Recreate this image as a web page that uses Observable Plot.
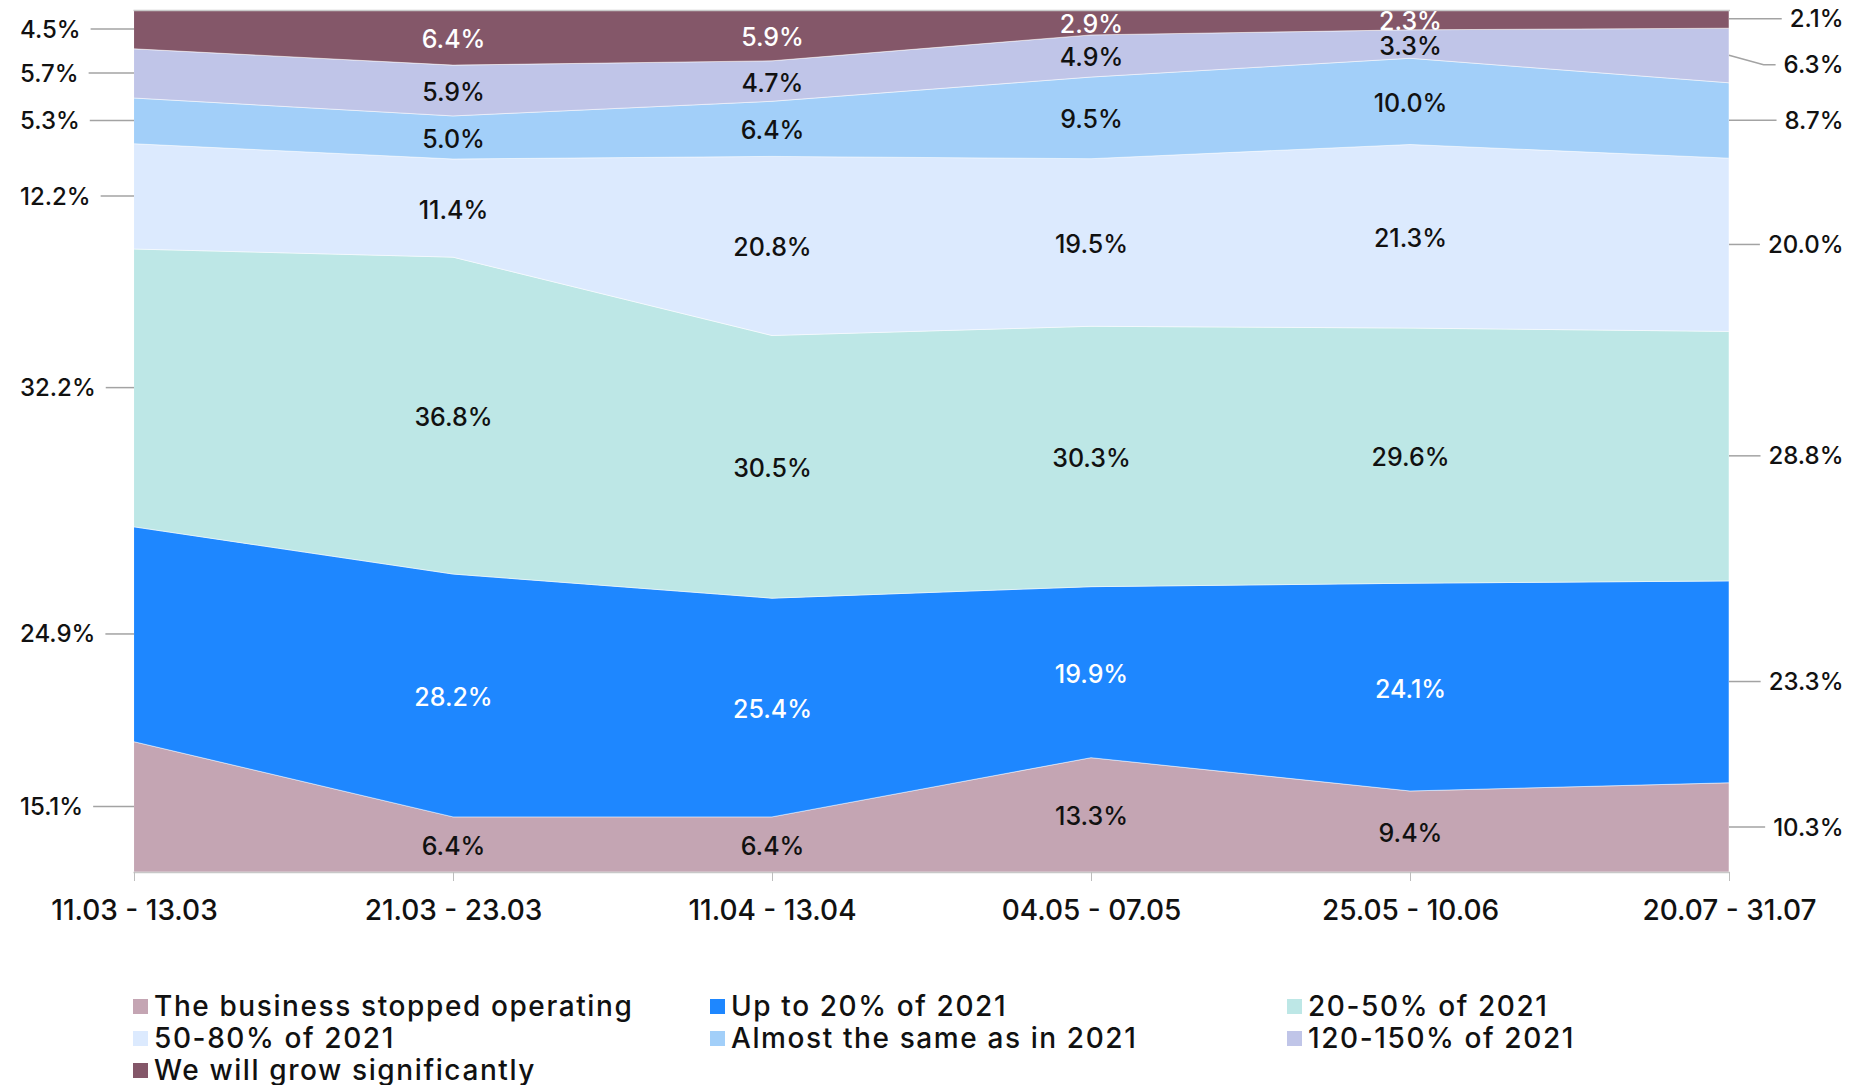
<!DOCTYPE html>
<html>
<head>
<meta charset="utf-8">
<script src="https://cdn.jsdelivr.net/npm/d3@7"></script>
<script src="https://cdn.jsdelivr.net/npm/@observablehq/plot@0.6"></script>
<style>
  body { margin: 0; background: #fff; font-family: Inter, "Noto Sans", sans-serif; }
  #chart svg { display: block; }
  .legend { display: grid; grid-template-columns: 577px 577px 577px; padding-left: 133px; margin-top: 40px; }
  .item { display: flex; align-items: center; height: 32px; font-size: 28px; font-weight: 500; letter-spacing: 1.6px; color: #111; white-space: nowrap; }
  .sw { width: 15px; height: 15px; margin-right: 6px; flex: none; }
</style>
</head>
<body>
<div id="chart"></div>
<div class="legend" id="legend"></div>
<script>
// ---- data ----
const periods = ["11.03 - 13.03", "21.03 - 23.03", "11.04 - 13.04", "04.05 - 07.05", "25.05 - 10.06", "20.07 - 31.07"];
const seriesNames = [
  "The business stopped operating",
  "Up to 20% of 2021",
  "20-50% of 2021",
  "50-80% of 2021",
  "Almost the same as in 2021",
  "120-150% of 2021",
  "We will grow significantly"
];
const stopped   = [15.1, 6.4, 6.4, 13.3, 9.4, 10.3];
const upTo20    = [24.9, 28.2, 25.4, 19.9, 24.1, 23.3];
const p20to50   = [32.2, 36.8, 30.5, 30.3, 29.6, 28.8];
const p50to80   = [12.2, 11.4, 20.8, 19.5, 21.3, 20.0];
const same      = [5.3, 5.0, 6.4, 9.5, 10.0, 8.7];
const p120to150 = [5.7, 5.9, 4.7, 4.9, 3.3, 6.3];
const grow      = [4.5, 6.4, 5.9, 2.9, 2.3, 2.1];

// ---- styles ----
const seriesColors = ["#c4a5b3", "#1e87ff", "#bde7e6", "#dceafe", "#a2cff9", "#c0c5e8", "#845769"];

const seriesValues = [stopped, upTo20, p20to50, p50to80, same, p120to150, grow];
const data = seriesNames.flatMap((s, i) => periods.map((p, j) => ({period: p, series: s, value: seriesValues[i][j]})));

const whiteSeries = new Set([seriesNames[1], seriesNames[6]]);
const first = periods[0], last = periods[periods.length - 1];
const middle = new Set(periods.slice(1, -1));
const fmt = v => v.toFixed(1) + "%";
const st = {x: "period", y: "value", z: "series", offset: "normalize"};
const font = "Inter, 'Noto Sans', sans-serif";

const chart = Plot.plot({
  width: 1852,
  height: 950,
  marginLeft: 133.5,
  marginRight: 122,
  marginTop: 10,
  marginBottom: 78,
  style: {fontFamily: font, fontSize: "26px", background: "white", overflow: "visible"},
  x: {type: "point", domain: periods, padding: 0, label: null},
  y: {domain: [0, 1], axis: null},
  color: {domain: seriesNames, range: seriesColors},
  marks: [
    Plot.areaY(data, {...st, fill: "series", stroke: "white", strokeOpacity: 0.5, strokeWidth: 1}),
    Plot.ruleY([0, 1], {stroke: "#c8c8c8", strokeWidth: 1.5}),
    Plot.axisX({tickSize: 9, tickPadding: 19, fontSize: 28, fontWeight: 500, stroke: "#bdbdbd", fill: "#111", label: null}),
    Plot.text(data, Plot.stackY({...st,
      text: d => middle.has(d.period) && !whiteSeries.has(d.series) ? fmt(d.value) : null,
      fill: "#111", fontSize: 25, fontWeight: 500, dy: 2})),
    Plot.text(data, Plot.stackY({...st,
      text: d => middle.has(d.period) && whiteSeries.has(d.series) ? fmt(d.value) : null,
      fill: "white", fontSize: 25, fontWeight: 500, dy: 2})),
    Plot.text(data, Plot.stackY({...st,
      text: d => d.period === first ? fmt(d.value) : null,
      fill: "#111", fontSize: 24, fontWeight: 500, textAnchor: "start", dx: -114.5})),
    Plot.text(data, Plot.stackY({...st,
      text: d => d.period === last ? fmt(d.value) : null,
      fill: "#111", fontSize: 24, fontWeight: 500, textAnchor: "end", dx: 114}))
  ]
});
document.getElementById("chart").append(chart);

// ---- leader lines for edge labels ----
const svg = d3.select(chart);
const box = chart.getBoundingClientRect();
const xs = chart.scale("x");
const ys = chart.scale("y");
const xL = xs.apply(first), xR = xs.apply(last);
const yBottom = ys.apply(0);
const leaders = svg.append("g").attr("fill", "none").attr("stroke", "#a3a3a3").attr("stroke-width", 1.5);

const allTexts = svg.selectAll("text").nodes().map(n => {
  const r = n.getBoundingClientRect();
  return {n, cy: r.top + r.height / 2 - box.top, left: r.left - box.left, right: r.right - box.left};
}).filter(t => t.cy < yBottom);

for (const t of allTexts.filter(t => t.right <= xL)) {
  leaders.append("path").attr("d", `M${t.right + 10},${t.cy}H${xL}`);
}

const rightItems = allTexts.filter(t => t.left >= xR).sort((a, b) => a.cy - b.cy);
let prev = -Infinity;
for (const it of rightItems) { it.ly = Math.max(it.cy, prev + 46); prev = it.ly; }
for (const it of rightItems) {
  const delta = it.ly - it.cy;
  if (delta) {
    const g = document.createElementNS("http://www.w3.org/2000/svg", "g");
    it.n.parentNode.insertBefore(g, it.n);
    g.appendChild(it.n);
    g.setAttribute("transform", `translate(0,${delta})`);
  }
  leaders.append("path").attr("d", `M${xR},${it.cy}L${it.left - 20},${it.ly}H${it.left - 8}`);
}

// ---- legend ----
const legend = d3.select("#legend");
seriesNames.forEach((s, i) => {
  const item = legend.append("div").attr("class", "item");
  item.append("span").attr("class", "sw").style("background", seriesColors[i]);
  item.append("span").text(s);
});
</script>
</body>
</html>
